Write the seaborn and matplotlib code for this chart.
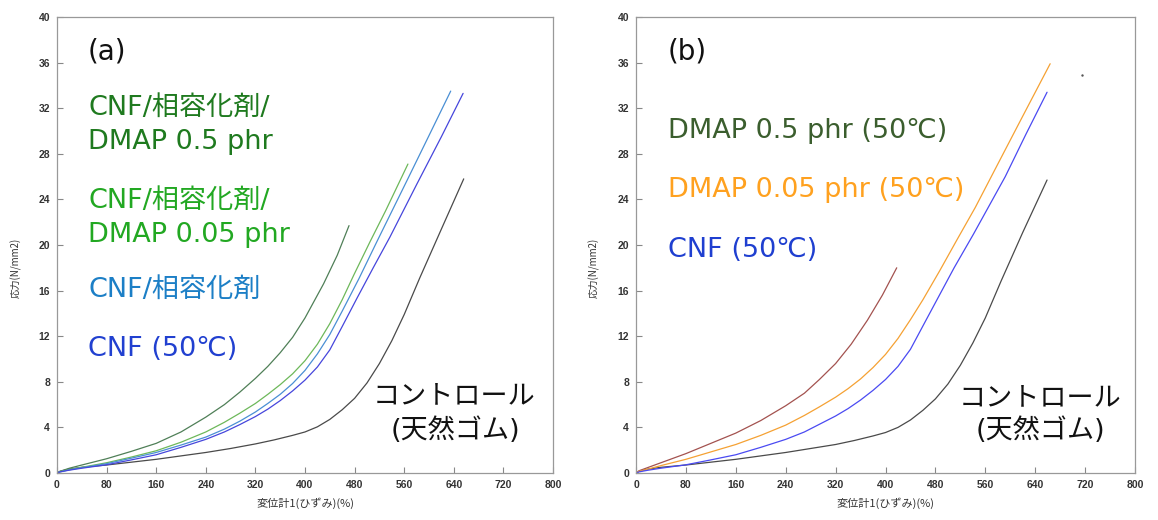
import matplotlib
matplotlib.use("Agg")
import matplotlib.pyplot as plt
import numpy as np
import pandas as pd
import seaborn as sns

# ---------------- data ----------------
# Panel (a)
a_ctrl_x = [0, 5, 20, 40, 80, 120, 160, 200, 240, 280, 320, 350, 380, 400, 420, 440, 460, 480, 500,
            520, 540, 560, 585, 620, 656]
a_ctrl_y = [0, 0.15, 0.35, 0.5, 0.7, 0.95, 1.2, 1.5, 1.8, 2.15, 2.55, 2.9, 3.3, 3.6, 4.05, 4.7, 5.55,
            6.55, 7.9, 9.6, 11.6, 13.9, 17.1, 21.4, 25.8]

a_dm05_x = [0, 5, 20, 40, 80, 120, 160, 200, 240, 270, 295, 320, 340, 360, 380, 400, 430, 452, 471]
a_dm05_y = [0, 0.15, 0.42, 0.7, 1.25, 1.9, 2.6, 3.6, 4.9, 6.0, 7.1, 8.3, 9.35, 10.55, 11.9, 13.6, 16.6,
            19.1, 21.7]

a_dm005_x = [0, 5, 20, 40, 80, 120, 160, 200, 240, 270, 295, 320, 340, 360, 380, 400, 420, 440, 460,
             479, 505, 530, 566]
a_dm005_y = [0, 0.12, 0.3, 0.5, 0.9, 1.4, 1.95, 2.7, 3.6, 4.45, 5.25, 6.1, 6.9, 7.75, 8.7, 9.85, 11.3,
             13.1, 15.2, 17.4, 20.3, 23.0, 27.1]

a_comp_x = [0, 5, 20, 40, 80, 120, 160, 200, 240, 270, 295, 320, 340, 360, 380, 400, 420, 440, 460,
            487, 516, 540, 564, 600, 635]
a_comp_y = [0, 0.1, 0.28, 0.47, 0.82, 1.3, 1.8, 2.45, 3.15, 3.85, 4.55, 5.35, 6.1, 6.9, 7.85, 9.0,
            10.45, 12.15, 14.2, 17.05, 20.3, 22.95, 25.6, 29.6, 33.5]

a_cnf_x = [0, 5, 20, 40, 80, 120, 160, 200, 240, 270, 295, 320, 340, 360, 380, 400, 420, 440, 460,
           484, 510, 537, 580, 620, 655]
a_cnf_y = [0, 0.1, 0.25, 0.42, 0.72, 1.15, 1.6, 2.25, 2.95, 3.6, 4.25, 4.95, 5.6, 6.35, 7.2, 8.15,
           9.3, 10.8, 12.85, 15.35, 18.0, 20.7, 25.3, 29.5, 33.3]

# Panel (b)
b_ctrl_x = [0, 5, 20, 40, 80, 120, 160, 200, 240, 280, 320, 350, 380, 400, 420, 440, 460, 480, 500,
            520, 540, 560, 585, 620, 659]
b_ctrl_y = [0, 0.15, 0.35, 0.5, 0.7, 0.95, 1.2, 1.5, 1.8, 2.15, 2.5, 2.85, 3.25, 3.55, 4.0, 4.65, 5.5,
            6.5, 7.8, 9.45, 11.4, 13.6, 16.8, 21.1, 25.7]

b_dm05_x = [0, 5, 20, 40, 80, 120, 160, 200, 240, 270, 294, 320, 345, 371, 395, 418]
b_dm05_y = [0, 0.2, 0.5, 0.9, 1.7, 2.6, 3.5, 4.6, 5.9, 7.0, 8.2, 9.6, 11.3, 13.4, 15.6, 18.0]

b_dm005_x = [0, 5, 20, 40, 80, 120, 160, 200, 240, 270, 294, 320, 340, 360, 380, 400, 420, 440, 460,
             487, 514, 544, 581, 620, 664]
b_dm005_y = [0, 0.15, 0.35, 0.65, 1.2, 1.85, 2.5, 3.3, 4.2, 5.05, 5.8, 6.65, 7.4, 8.25, 9.25, 10.4,
             11.8, 13.45, 15.2, 17.75, 20.4, 23.3, 27.2, 31.3, 35.9]

b_cnf_x = [0, 5, 20, 40, 80, 120, 160, 200, 240, 270, 295, 320, 340, 360, 380, 400, 420, 440, 460,
           484, 510, 541, 592, 625, 659]
b_cnf_y = [0, 0.1, 0.25, 0.42, 0.72, 1.15, 1.6, 2.25, 2.95, 3.6, 4.3, 5.0, 5.65, 6.4, 7.25, 8.2,
           9.35, 10.85, 12.9, 15.35, 18.0, 20.95, 26.0, 29.7, 33.4]

b_dot_x = [715]
b_dot_y = [34.9]

x_ticks = list(range(0, 801, 80))
y_ticks = list(range(0, 41, 4))

x_label = "変位計1(ひずみ)(%)"
y_label = "応力(N/mm2)"

# ---------------- style ----------------
sns.set_theme(style="white")
plt.rcParams["font.family"] = ["DejaVu Sans", "Noto Sans CJK JP"]

fig = plt.figure(figsize=(11.58, 5.2), dpi=100)
axA = fig.add_axes([57 / 1158, 47 / 520, 496 / 1158, 456 / 520])
axB = fig.add_axes([636 / 1158, 47 / 520, 499 / 1158, 456 / 520])


def frame(series):
    rows = []
    for name, xs, ys in series:
        rows.append(pd.DataFrame({"x": xs, "y": ys, "s": name}))
    return pd.concat(rows, ignore_index=True)


dfA = frame([
    ("ctrl", a_ctrl_x, a_ctrl_y),
    ("dm05", a_dm05_x, a_dm05_y),
    ("dm005", a_dm005_x, a_dm005_y),
    ("comp", a_comp_x, a_comp_y),
    ("cnf", a_cnf_x, a_cnf_y),
])
palA = {"ctrl": "#4a4a4a", "dm05": "#4f7f57", "dm005": "#6db85a",
        "comp": "#4a8fd4", "cnf": "#4646dc"}

dfB = frame([
    ("ctrl", b_ctrl_x, b_ctrl_y),
    ("dm05", b_dm05_x, b_dm05_y),
    ("dm005", b_dm005_x, b_dm005_y),
    ("cnf", b_cnf_x, b_cnf_y),
])
palB = {"ctrl": "#4a4a4a", "dm05": "#a3524f", "dm005": "#f5a133", "cnf": "#4a4af2"}

sns.lineplot(data=dfA, x="x", y="y", hue="s", palette=palA, sort=False,
             estimator=None, legend=False, linewidth=0.9, ax=axA)
sns.lineplot(data=dfB, x="x", y="y", hue="s", palette=palB, sort=False,
             estimator=None, legend=False, linewidth=0.9, ax=axB)
sns.scatterplot(x=b_dot_x, y=b_dot_y, color="#555555", s=3, linewidth=0, ax=axB)

for ax in (axA, axB):
    ax.set_xlim(0, 800)
    ax.set_ylim(0, 40)
    ax.set_xticks(x_ticks)
    ax.set_yticks(y_ticks)
    ax.tick_params(direction="in", length=4, width=0.8, color="#888888",
                   labelsize=7.5, labelcolor="#333333", pad=5,
                   bottom=True, left=True)
    for lbl in ax.get_xticklabels() + ax.get_yticklabels():
        lbl.set_fontfamily(["Liberation Sans", "DejaVu Sans"])
        lbl.set_fontweight("bold")
    for sp in ax.spines.values():
        sp.set_color("#999999")
        sp.set_linewidth(0.9)
    ax.set_xlabel(x_label, fontsize=8, color="#333333", labelpad=5,
                  fontfamily=["Noto Sans CJK JP", "DejaVu Sans"])
    ax.set_ylabel(y_label, fontsize=7, color="#333333",
                  fontfamily=["Noto Sans CJK JP", "DejaVu Sans"])
    ax.yaxis.set_label_coords(-0.072, 0.45)
    ax.grid(False)

fs = 19.5
# Panel (a) annotations
axA.text(50, 37.0, "(a)", fontsize=20, color="#111111", va="center", ha="left")
axA.text(50, 32.0, "CNF/相容化剤/", fontsize=fs, color="#1f7a1f", va="center")
axA.text(50, 29.0, "DMAP 0.5 phr", fontsize=fs, color="#1f7a1f", va="center")
axA.text(50, 23.9, "CNF/相容化剤/", fontsize=fs, color="#22a822", va="center")
axA.text(50, 20.9, "DMAP 0.05 phr", fontsize=fs, color="#22a822", va="center")
axA.text(50, 16.1, "CNF/相容化剤", fontsize=fs, color="#1c7fc6", va="center")
axA.text(50, 10.9, "CNF (50℃)", fontsize=fs, color="#2140d0", va="center")
axA.text(641, 6.75, "コントロール", fontsize=fs, color="#111111", va="center", ha="center")
axA.text(642, 3.7, "(天然ゴム)", fontsize=fs, color="#111111", va="center", ha="center")

# Panel (b) annotations
axB.text(51, 37.0, "(b)", fontsize=20, color="#111111", va="center", ha="left")
axB.text(51, 30.0, "DMAP 0.5 phr (50℃)", fontsize=fs, color="#3b5e2e", va="center")
axB.text(51, 24.8, "DMAP 0.05 phr (50℃)", fontsize=fs, color="#ffa11f", va="center")
axB.text(51, 19.6, "CNF (50℃)", fontsize=fs, color="#1f3fd0", va="center")
axB.text(647, 6.6, "コントロール", fontsize=fs, color="#111111", va="center", ha="center")
axB.text(648, 3.7, "(天然ゴム)", fontsize=fs, color="#111111", va="center", ha="center")

fig.savefig("out.png", dpi=100)
